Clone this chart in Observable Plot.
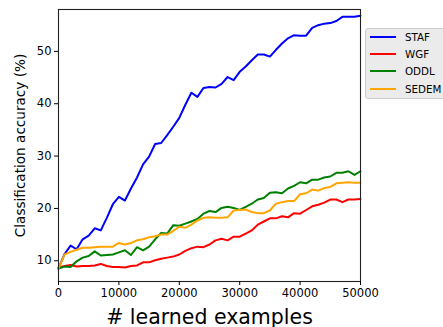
<!DOCTYPE html>
<html>
<head>
<meta charset="utf-8">
<script src="https://cdn.jsdelivr.net/npm/d3@7"></script>
<script src="https://cdn.jsdelivr.net/npm/@observablehq/plot@0.6"></script>
<style>
  html, body { margin: 0; padding: 0; background: #fff; overflow: hidden; }
  #chart { position: relative; width: 443px; height: 327px; font-family: "DejaVu Sans", sans-serif; }
  #legend {
    position: absolute; left: 365px; top: 28px; width: 90px; height: 71px;
    background: #ebebeb; border: 1px solid #cccccc; border-radius: 3px; box-sizing: border-box;
    font-size: 10.3px; color: #000;
  }
  .row { position: absolute; left: 0; height: 14px; display: flex; align-items: center; white-space: nowrap; }
  .row svg { margin-left: 4px; }
  .row span { margin-left: 9px; }
</style>
</head>
<body>
<div id="chart"></div>
<script>
// Number of learned examples at each evaluation point
const examples = [0,1000,2000,3000,4000,5000,6000,7000,8000,9000,10000,11000,12000,13000,14000,15000,16000,17000,18000,19000,20000,21000,22000,23000,24000,25000,26000,27000,28000,29000,30000,31000,32000,33000,34000,35000,36000,37000,38000,39000,40000,41000,42000,43000,44000,45000,46000,47000,48000,49000,50000];

// Classification accuracy (%) per method
const staf = [8.5,11.3,12.9,12.2,14.1,14.8,16.2,15.8,18.2,20.8,22.2,21.5,23.8,25.9,28.4,29.9,32.3,32.5,34.0,35.6,37.3,39.8,42.1,41.3,43.0,43.2,43.1,43.8,45.1,44.5,46.1,47.1,48.3,49.4,49.4,49.0,50.3,51.5,52.5,53.1,53.0,53.0,54.5,55.0,55.3,55.4,55.8,56.6,56.6,56.6,56.8];
const wgf = [8.7,9.0,9.2,8.9,9.0,9.0,9.1,9.4,9.0,8.8,8.8,8.7,9.0,9.1,9.7,9.7,10.1,10.4,10.6,10.8,11.2,11.9,12.4,12.7,12.6,13.1,13.9,14.2,13.9,14.6,14.6,15.2,15.8,16.9,17.5,18.1,18.1,18.5,18.3,19.1,19.0,19.7,20.4,20.7,21.1,21.7,21.7,21.2,21.7,21.7,21.8];
const oddl = [8.5,8.9,8.8,9.9,10.6,10.9,11.8,11.0,11.1,11.2,11.6,12.0,11.1,12.6,12.0,12.7,14.1,15.3,15.2,16.8,16.7,17.1,17.5,18.0,19.0,19.5,19.3,20.1,20.3,20.1,19.7,20.3,20.9,21.7,22.0,23.0,23.1,22.9,23.8,24.3,25.0,24.8,25.5,25.5,25.9,26.1,26.8,26.8,27.1,26.4,27.1];
const sedem = [8.5,11.2,11.7,12.1,12.5,12.5,12.6,12.7,12.7,12.7,13.4,13.1,13.4,13.9,14.1,14.5,14.7,15.0,15.0,15.7,16.5,16.3,16.9,17.7,18.2,18.3,18.2,18.2,18.3,19.6,19.7,19.8,19.3,19.1,19.1,19.6,20.9,21.2,21.4,21.4,22.7,22.9,23.6,23.4,23.9,24.1,24.8,24.9,25.0,24.9,24.9];

const methods = ["STAF", "WGF", "ODDL", "SEDEM"];
const colors = ["#0000ff", "#ff0000", "#008000", "#ffa500"];
const seriesValues = [staf, wgf, oddl, sedem];

const xTicks = [0, 10000, 20000, 30000, 40000, 50000];
const yTicks = [10, 20, 30, 40, 50];

const rows = methods.flatMap((m, i) =>
  examples.map((x, j) => ({method: m, x, acc: seriesValues[i][j]}))
);

const chart = Plot.plot({
  width: 443,
  height: 327,
  marginLeft: 58,
  marginRight: 83,
  marginTop: 9,
  marginBottom: 46,
  style: {fontFamily: "DejaVu Sans, sans-serif", fontSize: "11.5px", background: "#fff", color: "#000"},
  x: {domain: [0, 50000]},
  y: {domain: [6.04, 58]},
  color: {domain: methods, range: colors},
  marks: [
    Plot.line(rows, {x: "x", y: "acc", z: "method", stroke: "method", strokeWidth: 2}),
    Plot.frame({stroke: "#222", strokeWidth: 1.1}),
    Plot.axisX({ticks: xTicks, tickFormat: d3.format("d"), tickSize: 4, tickPadding: 3, label: null}),
    Plot.axisY({ticks: yTicks, tickSize: 4, tickPadding: 3, label: null}),
    Plot.text(["Classification accuracy (%)"], {
      frameAnchor: "left", textAnchor: "middle", lineAnchor: "middle",
      dx: -38, rotate: -90, fontSize: 13.6, fill: "#000"
    }),
    Plot.text(["# learned examples"], {
      frameAnchor: "bottom", textAnchor: "middle", lineAnchor: "bottom",
      dy: 42, fontSize: 20.5, fill: "#000"
    })
  ]
});

const root = document.getElementById("chart");
root.appendChild(chart);

// Legend box on the right
const legend = document.createElement("div");
legend.id = "legend";
methods.forEach((m, i) => {
  const row = document.createElement("div");
  row.className = "row";
  row.style.top = (1 + i * 17.2) + "px";
  row.innerHTML = `<svg width="26" height="4"><line x1="0" x2="26" y1="2" y2="2" stroke="${colors[i]}" stroke-width="2"/></svg><span>${m}</span>`;
  legend.appendChild(row);
});
root.appendChild(legend);
</script>
</body>
</html>
